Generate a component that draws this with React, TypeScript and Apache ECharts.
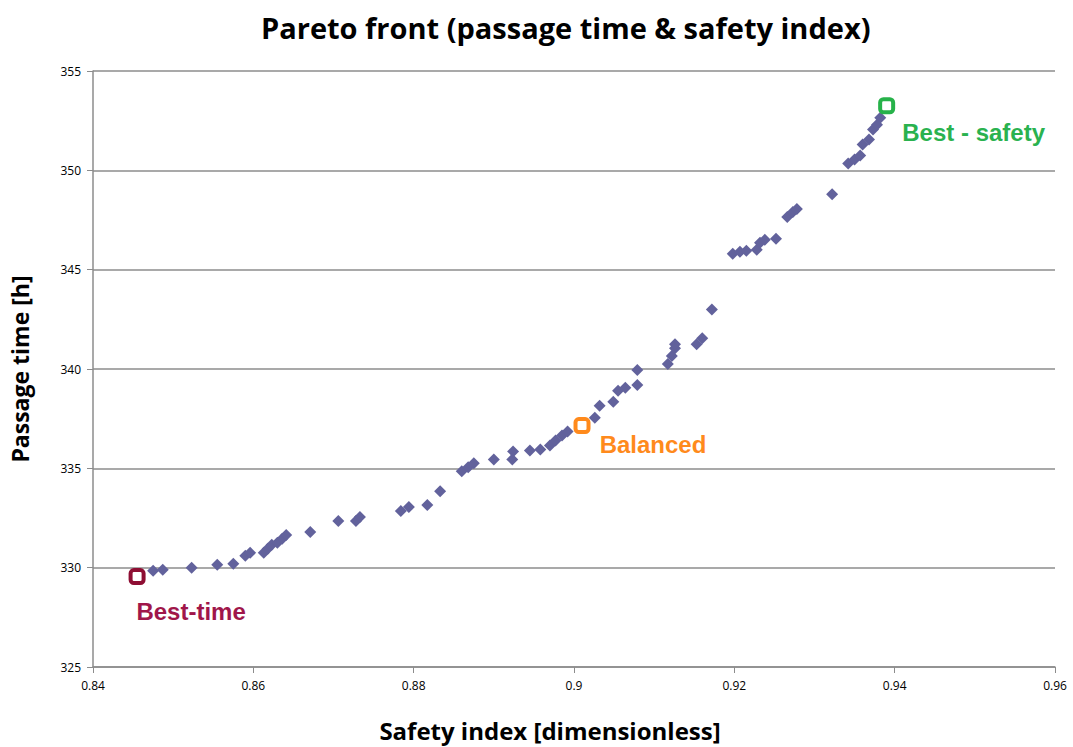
import React, { useEffect, useRef } from "react";
import * as echarts from "echarts";

const frontSafety: number[] = [
  0.8475, 0.8487, 0.8523, 0.8555, 0.8575, 0.859, 0.8596, 0.8613, 0.8618, 0.8623,
  0.863, 0.8636, 0.8641, 0.8671, 0.8706, 0.8728, 0.8733, 0.8784, 0.8794, 0.8817,
  0.8833, 0.886, 0.8868, 0.8875, 0.89, 0.8923, 0.8924, 0.8945, 0.8958, 0.897,
  0.8977, 0.8985, 0.8992, 0.9026, 0.9032, 0.9049, 0.9055, 0.9064, 0.9079, 0.9079,
  0.9117, 0.9122, 0.9126, 0.9126, 0.9153, 0.916, 0.9172, 0.9198, 0.9207, 0.9215,
  0.9228, 0.9232, 0.9238, 0.9252, 0.9266, 0.9273, 0.9278, 0.9322, 0.9342, 0.935,
  0.9357, 0.936, 0.9368, 0.9373, 0.9378, 0.9382,
];
const frontTime: number[] = [
  329.85, 329.9, 330.0, 330.15, 330.2, 330.6, 330.75, 330.75, 330.95, 331.15,
  331.25, 331.45, 331.65, 331.8, 332.35, 332.35, 332.55, 332.85, 333.05, 333.15,
  333.85, 334.85, 335.05, 335.25, 335.45, 335.45, 335.85, 335.9, 335.95, 336.15,
  336.4, 336.65, 336.85, 337.55, 338.15, 338.35, 338.9, 339.05, 339.2, 339.95,
  340.25, 340.65, 341.05, 341.25, 341.25, 341.55, 343.0, 345.8, 345.9, 345.95,
  346.0, 346.35, 346.5, 346.55, 347.65, 347.9, 348.05, 348.8, 350.35, 350.55,
  350.75, 351.3, 351.55, 352.05, 352.3, 352.65,
];

const highlightNames: string[] = ["Best-time", "Balanced", "Best - safety"];
const highlightSafety: number[] = [0.8455, 0.901, 0.939];
const highlightTime: number[] = [329.55, 337.15, 353.25];
const highlightColors: string[] = ["#8e0e33", "#ff8a1c", "#27b24a"];
const highlightLabelColors: string[] = ["#a0164a", "#ff8a1c", "#2ab24f"];
const highlightOffsets: number[][] = [
  [54, 35],
  [71, 19],
  [87, 27],
];

const xTicks = { min: 0.84, max: 0.96, interval: 0.02 };
const yTicks = { min: 325, max: 355, interval: 5 };

const TITLEFONT = "'Open Sans', sans-serif";
const SANS = "'Liberation Sans', Arial, sans-serif";

export default function App() {
  const ref = useRef<HTMLDivElement>(null);
  useEffect(() => {
    document.body.style.margin = "0";
    if (!ref.current) return;
    const chart = echarts.init(ref.current, undefined, { renderer: "svg" });
    const front = frontSafety.map((x, i) => [x, frontTime[i]]);
    const highlightSeries = highlightNames.map((name, i) => ({
      type: "scatter",
      name,
      data: [[highlightSafety[i], highlightTime[i]]],
      symbol: "roundRect",
      symbolSize: 13,
      z: 5,
      itemStyle: {
        color: "#ffffff",
        borderColor: highlightColors[i],
        borderWidth: 4,
        opacity: 1,
      },
      label: {
        show: true,
        position: "inside",
        offset: highlightOffsets[i],
        formatter: name,
        color: highlightLabelColors[i],
        fontFamily: SANS,
        fontSize: 24,
        fontWeight: "bold",
        align: "center",
        verticalAlign: "middle",
      },
    }));
    chart.setOption({
      animation: false,
      backgroundColor: "#ffffff",
      title: {
        text: "Pareto front (passage time & safety index)",
        left: 261,
        top: 13,
        padding: 0,
        textStyle: {
          fontFamily: TITLEFONT,
          fontWeight: "bold",
          fontSize: 29,
          color: "#000000",
        },
      },
      grid: { left: 93, right: 18, top: 71, bottom: 53 },
      xAxis: {
        type: "value",
        min: xTicks.min,
        max: xTicks.max,
        interval: xTicks.interval,
        name: "Safety index [dimensionless]",
        nameLocation: "middle",
        nameGap: 51,
        nameTextStyle: {
          fontFamily: TITLEFONT,
          fontWeight: "bold",
          fontSize: 24,
          color: "#000000",
          padding: [0, 48, 0, 0],
        },
        axisLine: { show: true, lineStyle: { color: "#8c8c8c", width: 1.5 } },
        axisTick: { show: true, length: 6, lineStyle: { color: "#8c8c8c" } },
        axisLabel: {
          fontFamily: TITLEFONT,
          fontSize: 12,
          color: "#000000",
          margin: 12,
          formatter: (v: number) => String(Number(v.toFixed(2))),
        },
        splitLine: { show: false },
      },
      yAxis: {
        type: "value",
        min: yTicks.min,
        max: yTicks.max,
        interval: yTicks.interval,
        name: "Passage time [h]",
        nameLocation: "middle",
        nameGap: 62,
        nameTextStyle: {
          fontFamily: TITLEFONT,
          fontWeight: "bold",
          fontSize: 23,
          color: "#000000",
        },
        axisLine: { show: true, lineStyle: { color: "#8c8c8c", width: 1.5 } },
        axisTick: { show: true, length: 6, lineStyle: { color: "#8c8c8c" } },
        axisLabel: {
          fontFamily: TITLEFONT,
          fontSize: 12,
          color: "#000000",
          margin: 12,
        },
        splitLine: { show: true, lineStyle: { color: "#8c8c8c", width: 1.5 } },
      },
      series: [
        {
          type: "scatter",
          name: "Pareto front",
          data: front,
          symbol: "diamond",
          symbolSize: 12,
          itemStyle: { color: "#62629c", opacity: 1 },
          z: 3,
        },
        ...highlightSeries,
      ],
    });
    return () => chart.dispose();
  }, []);
  return <div ref={ref} style={{ width: 1073, height: 747 }} />;
}
